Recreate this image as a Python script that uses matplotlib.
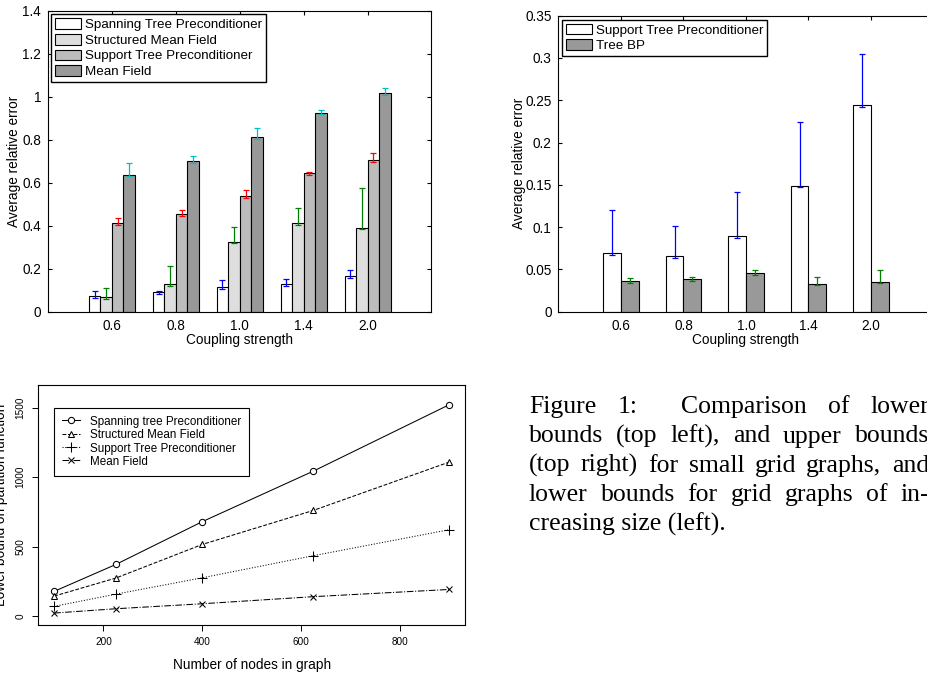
import matplotlib
matplotlib.use("Agg")
import matplotlib.pyplot as plt
import numpy as np
from matplotlib.transforms import IdentityTransform

W, H = 928, 674

# ---- top left: lower bounds, small grids ----
couplings = ["0.6", "0.8", "1.0", "1.4", "2.0"]
lb_names = ["Spanning Tree Preconditioner", "Structured Mean Field",
            "Support Tree Preconditioner", "Mean Field"]
span_mean = [0.072, 0.090, 0.113, 0.127, 0.165]
span_up = [0.026, 0.008, 0.033, 0.025, 0.029]
smf_mean = [0.068, 0.127, 0.326, 0.411, 0.391]
smf_up = [0.042, 0.085, 0.069, 0.070, 0.183]
stp_mean = [0.413, 0.453, 0.537, 0.644, 0.707]
stp_up = [0.024, 0.021, 0.031, 0.006, 0.030]
mf_mean = [0.638, 0.701, 0.814, 0.927, 1.019]
mf_up = [0.054, 0.022, 0.042, 0.014, 0.021]
lb_low = [0.008, 0.008, 0.008, 0.008, 0.008]

# ---- top right: upper bounds ----
ub_names = ["Support Tree Preconditioner", "Tree BP"]
stp_ub_mean = [0.0694, 0.0655, 0.089, 0.149, 0.2444]
stp_ub_up = [0.0506, 0.0355, 0.0525, 0.0757, 0.0603]
tbp_mean = [0.036, 0.0387, 0.0453, 0.0331, 0.0355]
tbp_up = [0.0035, 0.002, 0.0044, 0.0083, 0.0135]
ub_low = [0.002, 0.002, 0.002, 0.002, 0.002]

# ---- bottom left: lower bounds vs graph size ----
nodes = [100, 225, 400, 625, 900]
size_names = ["Spanning tree Preconditioner", "Structured Mean Field",
              "Support Tree Preconditioner", "Mean Field"]
span_lb = [178, 372, 680, 1044, 1522]
smf_lb = [144, 274, 516, 761, 1109]
stp_lb = [70, 158, 276, 435, 622]
mf_lb = [22, 53, 89, 140, 192]

caption = [
    (["Figure", "1:", "Comparison", "of", "lower"], [1, 2.1, 1, 1]),
    (["bounds", "(top", "left),", "and", "upper", "bounds"], None),
    (["(top", "right)", "for", "small", "grid", "graphs,", "and"], None),
    (["lower", "bounds", "for", "grid", "graphs", "of", "in-"], None),
    (["creasing size (left)."], "left"),
]

SANS = "Liberation Sans"
SERIF = "Liberation Serif"
plt.rcParams["font.family"] = SANS

fig = plt.figure(figsize=(W / 100, H / 100), dpi=100)


def px_axes(x0, y0, x1, y1):
    return fig.add_axes([x0 / W, 1 - y1 / H, (x1 - x0) / W, (y1 - y0) / H])


def matlab_style(ax, fs):
    for s in ax.spines.values():
        s.set_linewidth(0.8)
    ax.tick_params(direction="in", top=True, right=True, length=3, width=0.8,
                   labelsize=fs, pad=5)


FS = 9.8
x = np.arange(1, 6)

# top left
ax1 = px_axes(48, 11, 431.5, 311.7)
lb_colors = ["white", "#dedede", "#bcbcbc", "#999999"]
err_colors = ["#0000ff", "#008000", "#ff0000", "#00bfbf"]
offs = [-0.27, -0.09, 0.09, 0.27]
for m, up, fc, ec, off, name in zip([span_mean, smf_mean, stp_mean, mf_mean],
                                    [span_up, smf_up, stp_up, mf_up],
                                    lb_colors, err_colors, offs, lb_names):
    ax1.bar(x + off, m, width=0.18, color=fc, edgecolor="black", linewidth=0.8,
            label=name, zorder=2)
    ax1.errorbar(x + off, m, yerr=[lb_low, up], fmt="none", ecolor=ec,
                 elinewidth=0.9, capsize=2, capthick=0.9, zorder=3)
ax1.set_xlim(0, 6)
ax1.set_ylim(0, 1.4)
ax1.set_xticks(x)
ax1.set_xticklabels(couplings)
ax1.set_yticks([0, 0.2, 0.4, 0.6, 0.8, 1, 1.2, 1.4])
ax1.set_yticklabels(["0", "0.2", "0.4", "0.6", "0.8", "1", "1.2", "1.4"])
matlab_style(ax1, FS)
ax1.set_xlabel("Coupling strength", fontsize=FS, labelpad=0)
ax1.set_ylabel("Average relative error", fontsize=FS, labelpad=0.5)
leg = ax1.legend(loc="upper left", fontsize=9.6, frameon=True, fancybox=False,
                 edgecolor="black", framealpha=1, borderpad=0.3,
                 labelspacing=0.2, handlelength=1.95, handleheight=0.85,
                 handletextpad=0.25, borderaxespad=0.25)
leg.get_frame().set_linewidth(1.0)

# top right
ax2 = px_axes(558.5, 15.7, 933.5, 311.7)
for m, up, fc, ec, off, name in zip([stp_ub_mean, tbp_mean], [stp_ub_up, tbp_up],
                                    ["white", "#999999"], ["#0000ff", "#008000"],
                                    [-0.143, 0.143], ub_names):
    ax2.bar(x + off, m, width=0.286, color=fc, edgecolor="black", linewidth=0.8,
            label=name, zorder=2)
    ax2.errorbar(x + off, m, yerr=[ub_low, up], fmt="none", ecolor=ec,
                 elinewidth=0.9, capsize=2, capthick=0.9, zorder=3)
ax2.set_xlim(0, 6)
ax2.set_ylim(0, 0.35)
ax2.set_xticks(x)
ax2.set_xticklabels(couplings)
ax2.set_yticks([0, 0.05, 0.1, 0.15, 0.2, 0.25, 0.3, 0.35])
ax2.set_yticklabels(["0", "0.05", "0.1", "0.15", "0.2", "0.25", "0.3", "0.35"])
matlab_style(ax2, FS)
ax2.set_xlabel("Coupling strength", fontsize=FS, labelpad=0)
ax2.set_ylabel("Average relative error", fontsize=FS, labelpad=-1)
leg2 = ax2.legend(loc="upper left", fontsize=9.6, frameon=True, fancybox=False,
                  edgecolor="black", framealpha=1, borderpad=0.3,
                  labelspacing=0.2, handlelength=1.95, handleheight=0.85,
                  handletextpad=0.25, borderaxespad=0.3)
leg2.get_frame().set_linewidth(1.0)

# bottom left (R style)
ax3 = px_axes(38.3, 385, 465, 625)
styles = [("-", "o", 4.5), ("--", "^", 5), (":", "+", 7), ("-.", "x", 5)]
for ys, (ls, mk, ms), name in zip([span_lb, smf_lb, stp_lb, mf_lb], styles, size_names):
    ax3.plot(nodes, ys, linestyle=ls, color="black", linewidth=0.75,
             marker=mk, markersize=ms, markerfacecolor="white",
             markeredgecolor="black", markeredgewidth=0.75, label=name)
ax3.set_xlim(68, 932)
ax3.set_ylim(-64, 1664)
ax3.set_xticks([200, 400, 600, 800])
ax3.set_yticks([0, 500, 1000, 1500])
for s in ax3.spines.values():
    s.set_linewidth(0.8)
ax3.tick_params(direction="out", length=4.3, width=0.7, labelsize=7.2, pad=4)
ax3.tick_params(axis="y", labelrotation=90, pad=5)
for t in ax3.get_yticklabels():
    t.set_va("center")
ax3.set_xlabel("Number of nodes in graph", fontsize=9.8, labelpad=8.5)
ax3.set_ylabel("Lower bound on partition function", fontsize=9.8, labelpad=5)
leg3 = ax3.legend(loc="upper left", bbox_to_anchor=(100, 1500),
                  bbox_transform=ax3.transData, fontsize=8.4, frameon=True,
                  fancybox=False, edgecolor="black", framealpha=1,
                  borderpad=0.65, labelspacing=0.05, handlelength=1.6,
                  handleheight=1.14, handletextpad=0.8, borderaxespad=0,
                  numpoints=1)
leg3.get_frame().set_linewidth(0.8)

# caption, justified like the LaTeX source
rend = fig.canvas.get_renderer()
cap_x0, cap_x1 = 529, 929
baselines = [413.3, 442.5, 471.7, 500.9, 530.1]
for (words, mode), yb in zip(caption, baselines):
    arts = [fig.text(0, 0, w, transform=IdentityTransform(), ha="left",
                     va="baseline", fontsize=18.5, family=SERIF) for w in words]
    widths = [a.get_window_extent(rend).width for a in arts]
    if mode == "left":
        arts[0].set_position((cap_x0, H - yb))
        continue
    wts = mode if mode is not None else [1] * (len(words) - 1)
    unit = (cap_x1 - cap_x0 - sum(widths)) / sum(wts)
    pos = cap_x0
    for i, a in enumerate(arts):
        a.set_position((pos, H - yb))
        if i < len(wts):
            pos += widths[i] + unit * wts[i]

fig.savefig("out.png", dpi=100)
